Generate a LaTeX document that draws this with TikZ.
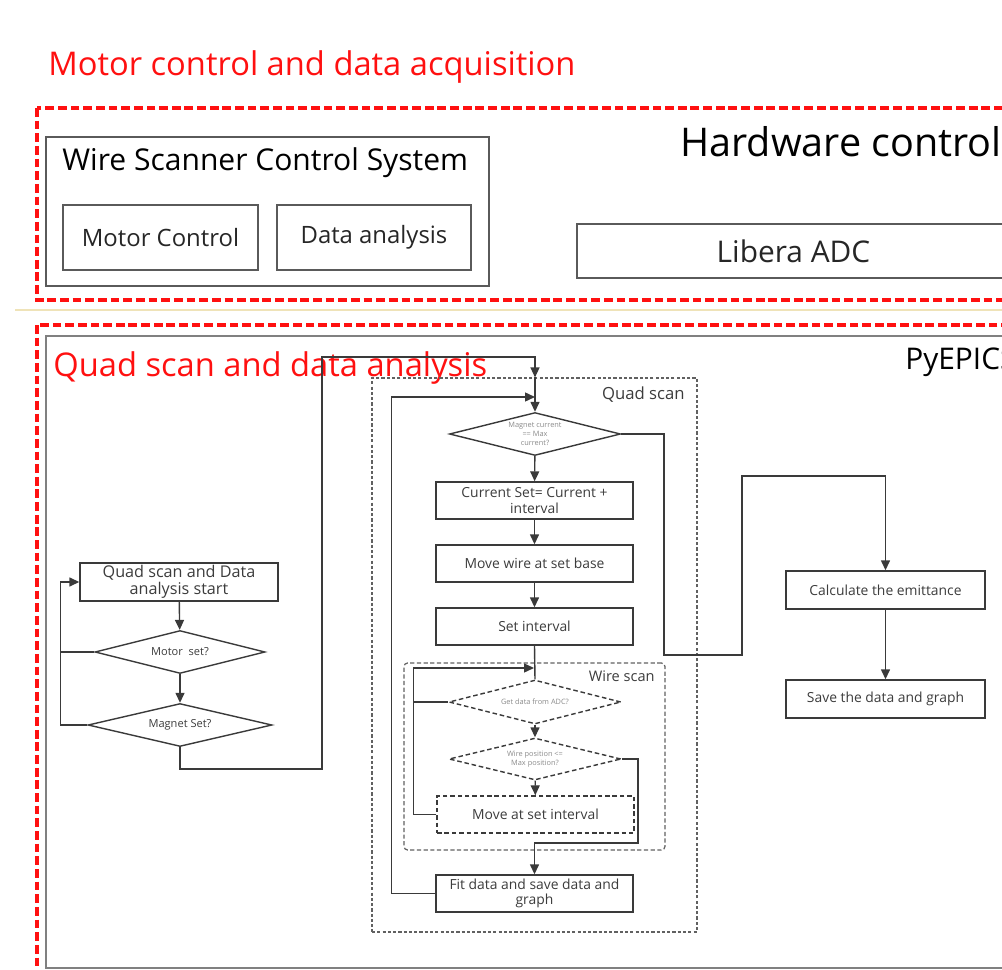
\documentclass[tikz,border=0pt]{standalone}
\usepackage{fontspec}
\setmainfont{Open Sans}
\usetikzlibrary{shapes.geometric,arrows.meta}
\definecolor{zonered}{HTML}{FF1010}
\definecolor{boxgray}{HTML}{5A5A5A}
\definecolor{flowgray}{HTML}{3A3A3A}
\definecolor{textgray}{HTML}{3C3C3C}
\definecolor{faintgray}{HTML}{8A8A8A}
\definecolor{sepline}{HTML}{EFE3B8}
\begin{document}
\begin{tikzpicture}[x=0.02cm, y=-0.02cm,
    zone/.style={draw=zonered, line width=2.3pt, dash pattern=on 5pt off 2.2pt},
    title/.style={text=zonered, anchor=west, inner sep=0pt, font=\fontsize{18.6}{20}\selectfont},
    hwbox/.style={rectangle, draw=boxgray, line width=1.1pt, align=center, font=\fontsize{13.6}{15}\selectfont, text=black!85},
    flowbox/.style={rectangle, draw=flowgray, line width=0.8pt, align=center, minimum width=3.94cm, minimum height=0.74cm, inner sep=1pt, text=textgray, font=\fontsize{7.9}{8.8}\selectfont},
    decision/.style={diamond, draw=flowgray, line width=0.8pt, align=center, aspect=4, inner sep=0pt, minimum width=3.42cm, minimum height=0.86cm, text=faintgray, font=\fontsize{4.2}{5}\selectfont},
    scanbox/.style={rectangle, draw=flowgray!80, line width=0.7pt, dash pattern=on 1.8pt off 1.2pt},
    arrow/.style={-{Triangle[length=2mm, width=1.8mm]}, line width=0.8pt, draw=flowgray},
    link/.style={line width=0.8pt, draw=flowgray}
]
\useasboundingbox (0,0) rectangle (1002,970);
\clip (0,0) rectangle (1002,970);

% upper zone: motor control and data acquisition
\node[title] (mctitle) at (48,67) {Motor control and data acquisition};
\draw[zone] (37,108) rectangle (1030,300);
\node[hwbox, minimum width=8.86cm, minimum height=2.98cm] (wscs) at (267.5,211.5) {};
\node[anchor=west, inner sep=0pt, font=\fontsize{17.1}{19}\selectfont] (wscstitle) at (62,163) {Wire Scanner Control System};
\node[hwbox, minimum width=3.9cm, minimum height=1.3cm] (motor) at (160.5,237.5) {Motor Control};
\node[hwbox, minimum width=3.88cm, minimum height=1.3cm] (analysis) at (374,237.5) {Data analysis};
\node[anchor=west, inner sep=0pt, font=\fontsize{22.5}{25}\selectfont] (hwtitle) at (680,142) {Hardware control};
\node[hwbox, minimum width=8.66cm, minimum height=1.08cm, font=\fontsize{17}{19}\selectfont] (libera) at (793.5,251) {Libera ADC};
\draw[sepline, line width=1pt] (15,310) -- (1002,310);

% lower zone: quad scan and data analysis
\draw[zone] (37,325) rectangle (1030,995);
\draw[draw=gray, line width=1.1pt] (46,336) rectangle (1030,968);
\node[title] (qstitle) at (53,368) {Quad scan and data analysis};
\node[anchor=west, inner sep=0pt, font=\fontsize{17}{19}\selectfont] (pyepics) at (905,362) {PyEPICS};

% start sequence
\node[flowbox, minimum width=3.96cm, minimum height=0.76cm, font=\fontsize{9.2}{10}\selectfont] (start) at (179,582) {Quad scan and Data\\analysis start};
\node[decision, minimum width=3.4cm, text=textgray, font=\fontsize{6.3}{7}\selectfont] (motorset) at (180,652) {Motor\ \ set?};
\node[decision, minimum width=3.68cm, text=textgray, font=\fontsize{6.3}{7}\selectfont] (magnetset) at (180,725) {Magnet Set?};

% quad scan loop
\node[scanbox, minimum width=6.5cm, minimum height=11.08cm] (quadscan) at (534.5,655) {};
\node[anchor=east, inner sep=0pt, text=textgray, font=\fontsize{9.5}{11}\selectfont] (qslabel) at (685,395) {Quad scan};
\node[decision] (maxcurrent) at (535,434) {Magnet current\\== Max\\current?};
\node[flowbox] (currentset) at (534.5,500.5) {Current Set= Current +\\interval};
\node[flowbox] (movebase) at (534.5,563.5) {Move wire at set base};
\node[flowbox] (setint) at (534.5,626.5) {Set interval};

% wire scan loop
\node[scanbox, minimum width=5.22cm, minimum height=3.74cm, rounded corners=2pt, dash pattern=on 2.4pt off 1.4pt] (wirescan) at (534.5,756.5) {};
\node[anchor=east, inner sep=0pt, text=textgray, font=\fontsize{8.3}{10}\selectfont] (wslabel) at (655,676) {Wire scan};
\node[decision, dash pattern=on 2.6pt off 1.6pt, minimum width=3.44cm, minimum height=0.88cm] (getdata) at (535,702) {Get data from ADC?};
\node[decision, dash pattern=on 2.6pt off 1.6pt, minimum width=3.44cm, minimum height=0.84cm] (wirepos) at (535,759) {Wire position <=\\Max position?};
\node[flowbox, dash pattern=on 2.6pt off 1.6pt, minimum width=3.94cm] (moveint) at (535.5,814.5) {Move at set interval};
\node[flowbox] (fit) at (534.5,893.5) {Fit data and save data and\\graph};

% emittance
\node[flowbox, minimum width=3.98cm, minimum height=0.76cm] (emittance) at (885.5,590) {Calculate the emittance};
\node[flowbox, minimum width=3.98cm, minimum height=0.76cm] (savegraph) at (885.5,699) {Save the data and graph};

\coordinate (qsin) at (maxcurrent.north |- quadscan.north);
\coordinate (qsloop) at (535,397);
\coordinate (wsloop) at (534,668);

\draw[arrow] (start) -- (motorset);
\draw[arrow] (motorset) -- (magnetset);
\draw[link] (motorset.west) -- ++(-34,0);
\draw[arrow] (magnetset.west) -- ++(-27,0) |- (start.west);
\draw[arrow] (magnetset.south) -- ++(0,22) -| (322,357) -| (qsin);
\draw[arrow] (qsin) -- (maxcurrent.north);
\draw[arrow] (maxcurrent) -- (currentset);
\draw[arrow] (currentset) -- (movebase);
\draw[arrow] (movebase) -- (setint);
\draw[link] (setint.south) -- (getdata.north);
\draw[link] (getdata.west) -- ++(-35,0);
\draw[arrow] (moveint.west) -- ++(-23,0) |- (wsloop);
\draw[arrow] (getdata) -- (wirepos);
\draw[arrow] (wirepos) -- (moveint);
\draw[arrow] (wirepos.east) -| (638,843) -| (fit.north);
\draw[arrow] (fit.west) -- ++(-44,0) |- (qsloop);
\draw[arrow] (maxcurrent.east) -| (664,655) -| (742,476) -| (emittance.north);
\draw[arrow] (emittance) -- (savegraph);
\end{tikzpicture}
\end{document}
